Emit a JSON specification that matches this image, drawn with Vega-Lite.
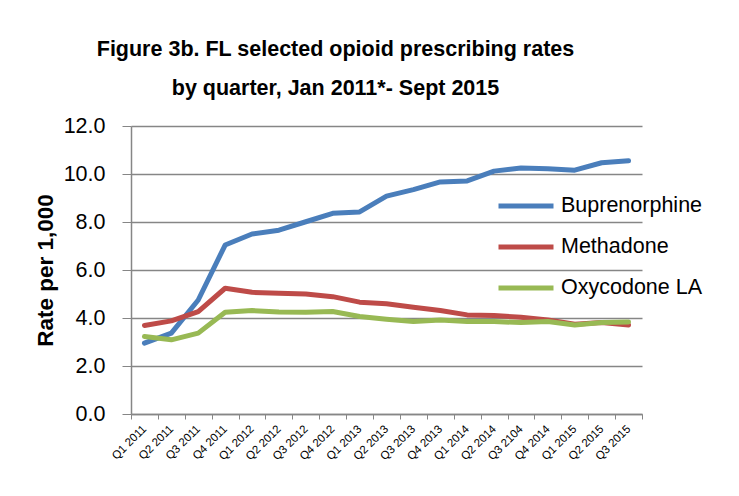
{
  "$schema": "https://vega.github.io/schema/vega-lite/v6.json",
  "autosize": {"type": "none"},
  "width": 511,
  "height": 288,
  "padding": {"left": 131, "top": 126, "right": 97, "bottom": 82},
  "background": "white",
  "title": {
    "text": ["Figure 3b. FL selected opioid prescribing rates", "by quarter, Jan 2011*- Sept 2015"],
    "font": "Liberation Sans",
    "fontSize": 21.5,
    "fontWeight": "bold",
    "color": "#000000",
    "anchor": "middle",
    "frame": "group",
    "dx": -51,
    "lineHeight": 39,
    "offset": -6,
    "baseline": "bottom"
  },
  "data": {
    "values": [
      {"q": "Q1 2011", "s": "Buprenorphine", "v": 2.95},
      {"q": "Q2 2011", "s": "Buprenorphine", "v": 3.37},
      {"q": "Q3 2011", "s": "Buprenorphine", "v": 4.75},
      {"q": "Q4 2011", "s": "Buprenorphine", "v": 7.04},
      {"q": "Q1 2012", "s": "Buprenorphine", "v": 7.5},
      {"q": "Q2 2012", "s": "Buprenorphine", "v": 7.66},
      {"q": "Q3 2012", "s": "Buprenorphine", "v": 8.01},
      {"q": "Q4 2012", "s": "Buprenorphine", "v": 8.36},
      {"q": "Q1 2013", "s": "Buprenorphine", "v": 8.42},
      {"q": "Q2 2013", "s": "Buprenorphine", "v": 9.08},
      {"q": "Q3 2013", "s": "Buprenorphine", "v": 9.35},
      {"q": "Q4 2013", "s": "Buprenorphine", "v": 9.67},
      {"q": "Q1 2014", "s": "Buprenorphine", "v": 9.71},
      {"q": "Q2 2014", "s": "Buprenorphine", "v": 10.12},
      {"q": "Q3 2104", "s": "Buprenorphine", "v": 10.25},
      {"q": "Q4 2014", "s": "Buprenorphine", "v": 10.22},
      {"q": "Q1 2015", "s": "Buprenorphine", "v": 10.16},
      {"q": "Q2 2015", "s": "Buprenorphine", "v": 10.47},
      {"q": "Q3 2015", "s": "Buprenorphine", "v": 10.55},
      {"q": "Q1 2011", "s": "Methadone", "v": 3.69},
      {"q": "Q2 2011", "s": "Methadone", "v": 3.88},
      {"q": "Q3 2011", "s": "Methadone", "v": 4.27},
      {"q": "Q4 2011", "s": "Methadone", "v": 5.24},
      {"q": "Q1 2012", "s": "Methadone", "v": 5.07},
      {"q": "Q2 2012", "s": "Methadone", "v": 5.03},
      {"q": "Q3 2012", "s": "Methadone", "v": 5.0},
      {"q": "Q4 2012", "s": "Methadone", "v": 4.89},
      {"q": "Q1 2013", "s": "Methadone", "v": 4.66},
      {"q": "Q2 2013", "s": "Methadone", "v": 4.59},
      {"q": "Q3 2013", "s": "Methadone", "v": 4.45},
      {"q": "Q4 2013", "s": "Methadone", "v": 4.31},
      {"q": "Q1 2014", "s": "Methadone", "v": 4.13},
      {"q": "Q2 2014", "s": "Methadone", "v": 4.1},
      {"q": "Q3 2104", "s": "Methadone", "v": 4.03},
      {"q": "Q4 2014", "s": "Methadone", "v": 3.92},
      {"q": "Q1 2015", "s": "Methadone", "v": 3.74},
      {"q": "Q2 2015", "s": "Methadone", "v": 3.81},
      {"q": "Q3 2015", "s": "Methadone", "v": 3.71},
      {"q": "Q1 2011", "s": "Oxycodone LA", "v": 3.23},
      {"q": "Q2 2011", "s": "Oxycodone LA", "v": 3.09},
      {"q": "Q3 2011", "s": "Oxycodone LA", "v": 3.37},
      {"q": "Q4 2011", "s": "Oxycodone LA", "v": 4.24},
      {"q": "Q1 2012", "s": "Oxycodone LA", "v": 4.31},
      {"q": "Q2 2012", "s": "Oxycodone LA", "v": 4.25},
      {"q": "Q3 2012", "s": "Oxycodone LA", "v": 4.24},
      {"q": "Q4 2012", "s": "Oxycodone LA", "v": 4.27},
      {"q": "Q1 2013", "s": "Oxycodone LA", "v": 4.06},
      {"q": "Q2 2013", "s": "Oxycodone LA", "v": 3.95},
      {"q": "Q3 2013", "s": "Oxycodone LA", "v": 3.85},
      {"q": "Q4 2013", "s": "Oxycodone LA", "v": 3.92},
      {"q": "Q1 2014", "s": "Oxycodone LA", "v": 3.85},
      {"q": "Q2 2014", "s": "Oxycodone LA", "v": 3.85},
      {"q": "Q3 2104", "s": "Oxycodone LA", "v": 3.81},
      {"q": "Q4 2014", "s": "Oxycodone LA", "v": 3.85},
      {"q": "Q1 2015", "s": "Oxycodone LA", "v": 3.71},
      {"q": "Q2 2015", "s": "Oxycodone LA", "v": 3.81},
      {"q": "Q3 2015", "s": "Oxycodone LA", "v": 3.83}
    ]
  },
  "mark": {"type": "line", "strokeWidth": 5, "strokeCap": "round", "strokeJoin": "round"},
  "encoding": {
    "x": {
      "field": "q",
      "type": "nominal",
      "sort": null,
      "scale": {"type": "band", "paddingInner": 0, "paddingOuter": 0},
      "axis": {
        "title": null,
        "labelAngle": -45,
        "labelAlign": "right",
        "labelBaseline": "middle",
        "labelFont": "Liberation Sans",
        "labelFontSize": 11.5,
        "labelColor": "#000000",
        "labelPadding": 8,
        "tickBand": "extent",
        "tickSize": 5,
        "tickColor": "#868686",
        "domainColor": "#868686",
        "domainWidth": 1.5,
        "grid": false
      }
    },
    "y": {
      "field": "v",
      "type": "quantitative",
      "scale": {"domain": [0, 12], "nice": false},
      "axis": {
        "title": "Rate per 1,000",
        "titleFont": "Liberation Sans",
        "titleFontSize": 22.5,
        "titleFontWeight": "bold",
        "titleColor": "#000000",
        "titleAngle": -90,
        "titleX": -86,
        "titleY": 144,
        "titleAlign": "center",
        "titleBaseline": "middle",
        "values": [0, 2, 4, 6, 8, 10, 12],
        "format": ".1f",
        "labelFont": "Liberation Sans",
        "labelFontSize": 21.5,
        "labelColor": "#000000",
        "labelPadding": 17,
        "tickSize": 9,
        "tickColor": "#868686",
        "domainColor": "#868686",
        "domainWidth": 1.5,
        "grid": true,
        "gridColor": "#868686",
        "gridWidth": 1.5
      }
    },
    "color": {
      "field": "s",
      "type": "nominal",
      "scale": {
        "domain": ["Buprenorphine", "Methadone", "Oxycodone LA"],
        "range": ["#4A7EBB", "#BE4B48", "#98B954"]
      },
      "legend": {
        "title": null,
        "orient": "none",
        "legendX": 365,
        "legendY": 50,
        "symbolType": "stroke",
        "symbolSize": 3025,
        "symbolStrokeWidth": 5,
        "rowPadding": -16.5,
        "labelFont": "Liberation Sans",
        "labelFontSize": 21.5,
        "labelColor": "#000000",
        "labelOffset": 5,
        "labelLimit": 300
      }
    }
  },
  "config": {"view": {"stroke": null}}
}
